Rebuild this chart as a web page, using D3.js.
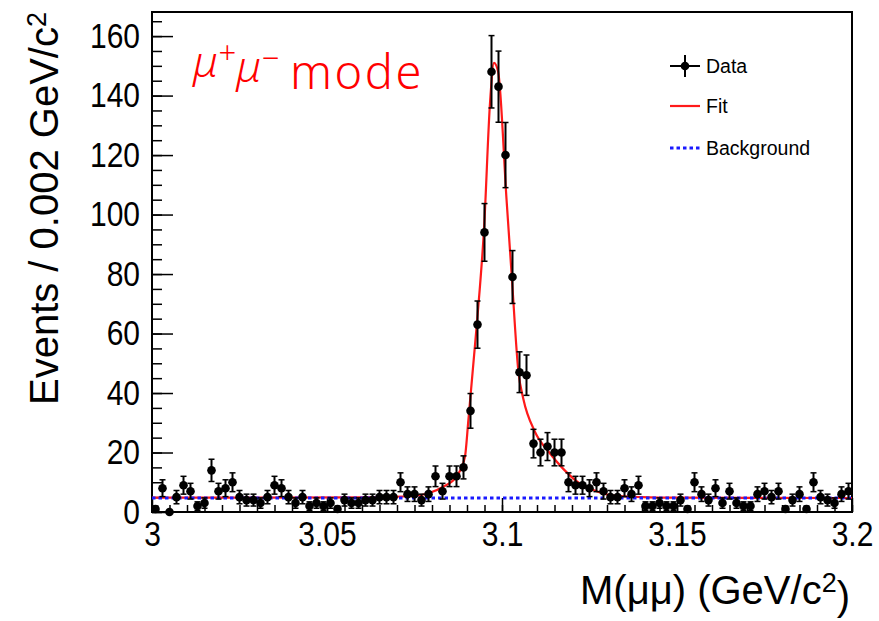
<!DOCTYPE html>
<html>
<head>
<meta charset="utf-8">
<script src="https://cdn.jsdelivr.net/npm/d3@7"></script>
<style>
  body { margin: 0; background: #fff; }
  svg { display: block; }
</style>
</head>
<body>
<svg id="chart" width="879" height="621"></svg>
<script>
// histogram: 100 bins of 0.002 GeV/c2 from 3.0 to 3.2
var binLow = 3.0, binWidth = 0.002;
var counts = [
  1, 8, 0, 5, 9, 7, 2, 3, 14, 7,
  8, 10, 5, 4, 4, 3, 5, 9, 8, 5,
  3, 5, 2, 3, 2, 3, 1, 4, 3, 3,
  4, 4, 5, 5, 5, 10, 6, 6, 4, 6,
  12, 7, 12, 12, 15, 34, 63, 94, 148, 143,
  120, 79, 47, 46, 23, 20, 22, 20, 20, 10,
  9, 9, 8, 10, 7, 5, 5, 8, 6, 9,
  2, 2, 3, 2, 2, 4, 1, 10, 6, 4,
  8, 3, 7, 3, 2, 2, 6, 7, 5, 7,
  1, 4, 6, 1, 10, 5, 4, 3, 6, 7
];

// fit curve
var fitMass  = [3.000, 3.060, 3.0737, 3.079, 3.0832, 3.087, 3.0894, 3.0904, 3.0928, 3.0949,
                3.0966, 3.0977, 3.0989, 3.1013, 3.1028, 3.1047, 3.1061, 3.1094, 3.1135, 3.1175,
                3.1223, 3.127, 3.132, 3.140, 3.150, 3.200];
var fitValue = [4.8, 4.9, 5.3, 6.3, 8.5, 12, 18.5, 31, 63, 96,
                138, 151, 148, 105, 79, 47, 38, 27, 20, 14.5,
                9.5, 7, 5.5, 5.0, 4.8, 4.7];

var bkgMass  = [3.0, 3.2];
var bkgValue = [4.7, 4.7];

var xMajor = [3, 3.05, 3.1, 3.15, 3.2];
var xLabels = ["3", "3.05", "3.1", "3.15", "3.2"];
var yMajor = [0, 20, 40, 60, 80, 100, 120, 140, 160];

var legendItems = ["Data", "Fit", "Background"];

var svg = d3.select("#chart");
var font = "'Liberation Sans', Arial, Helvetica, sans-serif";

var x = d3.scaleLinear().domain([3.0, 3.2]).range([152, 852]);
var y = d3.scaleLinear().domain([0, 168.1]).range([512, 12]);

// minor ticks
var xMinor = d3.range(0, 41).map(function (i) { return 3 + i * 0.005; });
var yMinor = d3.range(0, 34).map(function (i) { return i * 5; });

var gxm = svg.append("g").attr("transform", "translate(0,512)")
  .call(d3.axisBottom(x).tickValues(xMinor).tickSizeInner(-7).tickSizeOuter(0).tickFormat(""));
var gx = svg.append("g").attr("transform", "translate(0,512)")
  .call(d3.axisBottom(x).tickValues(xMajor).tickSizeInner(-14).tickSizeOuter(0).tickPadding(8)
    .tickFormat(function (d, i) { return xLabels[i]; }));
var gym = svg.append("g").attr("transform", "translate(152,0)")
  .call(d3.axisLeft(y).tickValues(yMinor).tickSizeInner(-10).tickSizeOuter(0).tickFormat(""));
var gy = svg.append("g").attr("transform", "translate(152,0)")
  .call(d3.axisLeft(y).tickValues(yMajor).tickSizeInner(-21).tickSizeOuter(0).tickPadding(12));

[gxm, gx, gym, gy].forEach(function (g) {
  g.select(".domain").remove();
  g.selectAll("line").attr("stroke", "#000").attr("stroke-width", 1.5);
  g.selectAll("text").attr("fill", "#000").style("font-family", font).style("font-size", "30px");
});
gx.selectAll("text").attr("transform", "scale(1,1.15)");
gy.selectAll("text").attr("transform", "scale(1,1.15)");

// frame
svg.append("rect")
  .attr("x", x(3.0)).attr("y", y(168.1))
  .attr("width", x(3.2) - x(3.0)).attr("height", y(0) - y(168.1))
  .attr("fill", "none").attr("stroke", "#000").attr("stroke-width", 2);

// curves
var line = d3.line().x(function (d) { return x(d[0]); }).y(function (d) { return y(d[1]); });

svg.append("path")
  .datum(fitMass.map(function (m, i) { return [m, fitValue[i]]; }))
  .attr("d", line.curve(d3.curveMonotoneX))
  .attr("fill", "none").attr("stroke", "#ff1a1a").attr("stroke-width", 2.2);

svg.append("path")
  .datum(bkgMass.map(function (m, i) { return [m, bkgValue[i]]; }))
  .attr("d", d3.line().x(function (d) { return x(d[0]); }).y(function (d) { return y(d[1]); }))
  .attr("fill", "none").attr("stroke", "#1a1aff").attr("stroke-width", 3)
  .attr("stroke-dasharray", "3.5,3");

// data points with poisson errors
var data = counts.map(function (n, i) {
  return { m: binLow + (i + 0.5) * binWidth, n: n, e: Math.sqrt(n) };
});

var pts = svg.append("g").selectAll("g").data(data).enter().append("g");
pts.append("line")
  .attr("x1", function (d) { return x(d.m); }).attr("x2", function (d) { return x(d.m); })
  .attr("y1", function (d) { return y(Math.max(0, d.n - d.e)); })
  .attr("y2", function (d) { return y(d.n + d.e); })
  .attr("stroke", "#000").attr("stroke-width", 2);
pts.filter(function (d) { return d.n > 0; }).append("line")
  .attr("x1", function (d) { return x(d.m) - 3; }).attr("x2", function (d) { return x(d.m) + 3; })
  .attr("y1", function (d) { return y(d.n + d.e); }).attr("y2", function (d) { return y(d.n + d.e); })
  .attr("stroke", "#000").attr("stroke-width", 1.5);
pts.filter(function (d) { return d.n - d.e > 0; }).append("line")
  .attr("x1", function (d) { return x(d.m) - 3; }).attr("x2", function (d) { return x(d.m) + 3; })
  .attr("y1", function (d) { return y(d.n - d.e); }).attr("y2", function (d) { return y(d.n - d.e); })
  .attr("stroke", "#000").attr("stroke-width", 1.5);
pts.append("circle")
  .attr("cx", function (d) { return x(d.m); })
  .attr("cy", function (d) { return y(d.n); })
  .attr("r", 4.3).attr("fill", "#000");

// axis titles
var yt = svg.append("text")
  .attr("transform", "translate(58,12) rotate(-90)")
  .attr("text-anchor", "end")
  .style("font-family", font).style("font-size", "40px").attr("fill", "#000");
yt.append("tspan").text("Events / 0.002 GeV/c");
yt.append("tspan").attr("dy", "-0.45em").style("font-size", "27px").text("2");

var xt = svg.append("text")
  .attr("x", 850).attr("y", 604)
  .attr("text-anchor", "end")
  .style("font-family", font).style("font-size", "40px").attr("fill", "#000");
xt.append("tspan").text("M(\u03bc\u03bc) (GeV/c");
xt.append("tspan").attr("dy", "-0.45em").style("font-size", "27px").text("2");
xt.append("tspan").attr("dy", "0.45em").text(")");

// mode label
var ml = svg.append("text")
  .attr("x", 193).attr("y", 77)
  .style("font-family", "'Noto Sans', sans-serif").style("font-size", "43px")
  .style("font-weight", 300).attr("fill", "#ff0000");
ml.append("tspan").style("font-style", "italic").text("\u03bc");
ml.append("tspan").attr("dy", "-0.42em").style("font-size", "31px").text("+");
ml.append("tspan").attr("dy", "0.42em").style("font-style", "italic").text("\u03bc");
ml.append("tspan").attr("dy", "-0.42em").style("font-size", "31px").text("\u2212");
ml.append("tspan").attr("x", 290).attr("dy", "0.42em")
  .style("font-size", "47px").style("letter-spacing", "2.5px").text("mode");

// legend
var lg = svg.append("g");
var ly = [66, 106, 148];
lg.selectAll("text").data(legendItems).enter().append("text")
  .attr("x", 706).attr("y", function (d, i) { return ly[i]; })
  .attr("dy", "0.35em")
  .style("font-family", font).style("font-size", "19.5px").attr("fill", "#000")
  .text(function (d) { return d; });
lg.append("line").attr("x1", 670).attr("x2", 700).attr("y1", ly[0]).attr("y2", ly[0])
  .attr("stroke", "#000").attr("stroke-width", 2);
lg.append("line").attr("x1", 685).attr("x2", 685).attr("y1", ly[0] - 11).attr("y2", ly[0] + 11)
  .attr("stroke", "#000").attr("stroke-width", 2);
lg.append("circle").attr("cx", 685).attr("cy", ly[0]).attr("r", 4.3).attr("fill", "#000");
lg.append("line").attr("x1", 670).attr("x2", 700).attr("y1", ly[1]).attr("y2", ly[1])
  .attr("stroke", "#ff1a1a").attr("stroke-width", 2.2);
lg.append("line").attr("x1", 670).attr("x2", 701).attr("y1", ly[2]).attr("y2", ly[2])
  .attr("stroke", "#1a1aff").attr("stroke-width", 3).attr("stroke-dasharray", "3.5,3");
</script>
</body>
</html>
